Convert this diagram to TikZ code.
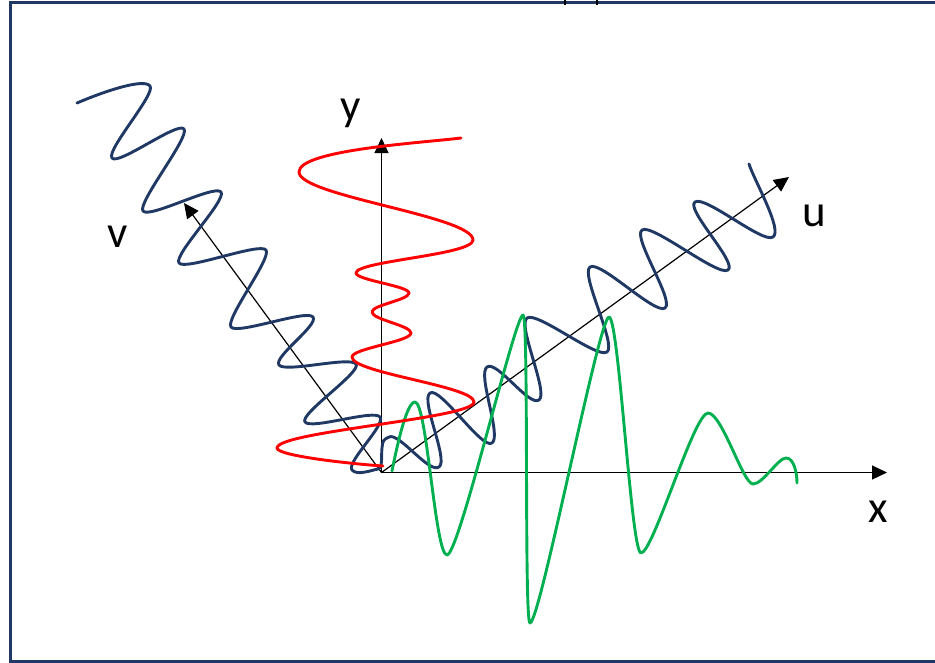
\documentclass[tikz,border=0pt]{standalone}
\usepackage{fontspec}
\setmainfont{Carlito}
\usetikzlibrary{arrows.meta}

\definecolor{wavenavy}{HTML}{1F3864}
\definecolor{wavered}{HTML}{FF0000}
\definecolor{wavegreen}{HTML}{00B050}

\begin{document}
\begin{tikzpicture}[
    x=1pt, y=-1pt,
    axis/.style={
        -{Triangle[length=15pt,width=14pt]},
        line width=1.2pt
    },
    wave/.style={
        line width=2.9pt,
        line join=round,
        line cap=round
    },
    frame/.style={
        draw=wavenavy,
        line width=3pt
    },
    lbl/.style={
        font=\fontsize{45}{48}\selectfont,
        inner sep=0pt,
        anchor=base
    }
]
    \useasboundingbox (0,0) rectangle (935,662);

    % Frame
    \draw[frame] (10.5,2.5) rectangle (980,661);
    \draw[line width=1.5pt] (565,0) -- (565,5);
    \draw[line width=1.5pt] (597,0) -- (597,5);

    % Axes
    \coordinate (O) at (381.5,472.5);
    \coordinate (xtip) at (887,472.5);
    \coordinate (ytip) at (381.5,138);
    \coordinate (utip) at (789,177);
    \coordinate (vtip) at (184,203);

    \draw[axis] (O) -- (xtip);
    \draw[axis] (O) -- (ytip);
    \draw[axis] (O) -- (utip);
    \draw[axis] (O) -- (vtip);

    % Labels
    \node[lbl] (xlab) at (878.5,522) {x};
    \node[lbl] (ylab) at (351,120) {y};
    \node[lbl] (ulab) at (814,226) {u};
    \node[lbl] (vlab) at (117.5,247) {v};

    % Wave along v, then along u
    \draw[wave, wavenavy]
        (77,103) .. controls +(28,-12) and +(-6,-8) .. (150,86)
        .. controls +(6,8) and +(-6,-8) .. (112,158)
        .. controls +(6,8) and +(-6,-8) .. (184,129)
        .. controls +(6,8) and +(-6,-8) .. (143,211)
        .. controls +(6,8) and +(-6,-8) .. (221,192)
        .. controls +(6,8) and +(-6,-8) .. (179,263)
        .. controls +(6,8) and +(-6,-8) .. (266,250)
        .. controls +(6,8) and +(-6,-8) .. (231,327)
        .. controls +(6,8) and +(-6,-8) .. (313,317)
        .. controls +(6,8) and +(-6,-8) .. (279,365)
        .. controls +(6,8) and +(-6,-8) .. (356,364)
        .. controls +(6,8) and +(-6,-8) .. (305,422)
        .. controls +(6,8) and +(-6,-8) .. (380,417)
        .. controls +(6,8) and +(-6,-8) .. (352,470)
        .. controls +(5,6) and +(-6,1) .. (378,469)
        .. controls +(5,-1) and +(-1,8) .. (382,448)
        .. controls +(1,-8) and +(-6,3) .. (389,437)
        .. controls +(10,-5) and +(-10,7) .. (439,467)
        .. controls +(10,-7) and +(-10,7) .. (430,393)
        .. controls +(10,-7) and +(-10,7) .. (492,443)
        .. controls +(10,-7) and +(-10,7) .. (487,367)
        .. controls +(10,-7) and +(-10,7) .. (539,400)
        .. controls +(10,-7) and +(-10,7) .. (527,318)
        .. controls +(10,-7) and +(-10,7) .. (607,352)
        .. controls +(10,-7) and +(-10,7) .. (590,267)
        .. controls +(10,-7) and +(-10,7) .. (665,308)
        .. controls +(10,-7) and +(-10,7) .. (642,230)
        .. controls +(10,-7) and +(-10,7) .. (728,270)
        .. controls +(10,-7) and +(-10,7) .. (695,202)
        .. controls +(10,-7) and +(-10,7) .. (773,237)
        .. controls +(10,-7) and +(5,16) .. (749,164);

    % Wave along x
    \draw[wave, wavegreen]
        (392,471) .. controls +(6,-30) and +(-8,0) .. (415,402)
        .. controls +(12,0) and +(-12,0) .. (447,555)
        .. controls +(12,0) and +(-8,0) .. (523,315)
        .. controls +(6,0) and +(-6,0) .. (530,623)
        .. controls +(10,0) and +(-10,0) .. (609,317)
        .. controls +(10,0) and +(-10,0) .. (641,553)
        .. controls +(12,0) and +(-14,0) .. (708,413)
        .. controls +(14,0) and +(-10,0) .. (753,484)
        .. controls +(10,0) and +(-8,0) .. (786,458)
        .. controls +(8,0) and +(0,-10) .. (797,483);

    % Wave along y
    \draw[wave, wavered]
        (461,138) .. controls +(-41,5) and +(0,-22) .. (299,172)
        .. controls +(0,24) and +(0,-24) .. (473,240)
        .. controls +(0,15) and +(0,-12) .. (356,273)
        .. controls +(0,7) and +(0,-7) .. (409,293)
        .. controls +(0,7) and +(0,-7) .. (372,312)
        .. controls +(0,7.5) and +(0,-7.5) .. (411,333)
        .. controls +(0,8.5) and +(0,-8.5) .. (352,357)
        .. controls +(0,16) and +(0,-16) .. (474,402)
        .. controls +(0,16.5) and +(0,-16.5) .. (277,448)
        .. controls +(0,8) and +(-30,-2) .. (383,466);
\end{tikzpicture}
\end{document}
